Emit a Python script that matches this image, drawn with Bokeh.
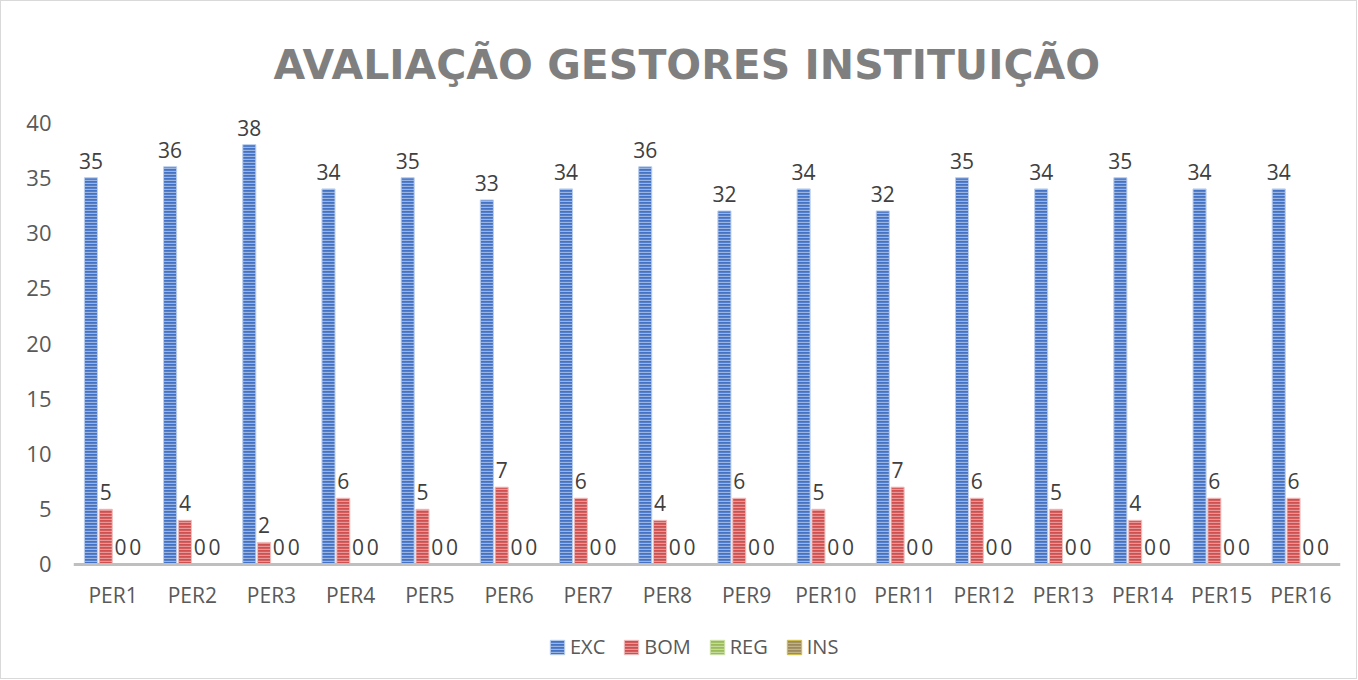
from bokeh.plotting import figure
from bokeh.models import ColumnDataSource, FactorRange, Range1d, FixedTicker, Legend, LegendItem
from bokeh.transform import dodge
from bokeh.core.properties import value
from bokeh.embed import file_html
from bokeh.resources import INLINE

categories = ["PER1", "PER2", "PER3", "PER4", "PER5", "PER6", "PER7", "PER8",
              "PER9", "PER10", "PER11", "PER12", "PER13", "PER14", "PER15", "PER16"]
exc = [35, 36, 38, 34, 35, 33, 34, 36, 32, 34, 32, 35, 34, 35, 34, 34]
bom = [5, 4, 2, 6, 5, 7, 6, 4, 6, 5, 7, 6, 5, 4, 6, 6]
reg = [0] * 16
ins = [0] * 16
series_names = ["EXC", "BOM", "REG", "INS"]
y_ticks = [0, 5, 10, 15, 20, 25, 30, 35, 40]
title_text = "AVALIAÇÃO GESTORES INSTITUIÇÃO"

src = ColumnDataSource(dict(cat=categories, EXC=exc, BOM=bom, REG=reg, INS=ins,
                            EXC_t=[str(v) for v in exc], BOM_t=[str(v) for v in bom],
                            REG_t=[str(v) for v in reg], INS_t=[str(v) for v in ins]))

p = figure(frame_width=1267, frame_height=578, output_backend="svg", toolbar_location=None,
           x_range=FactorRange(*categories, range_padding=0), y_range=Range1d(-10.32, 42),
           min_border_left=72, min_border_right=16, min_border_top=99, min_border_bottom=0)
p.styles = {"border": "1px solid #d9d9d9"}
p.outline_line_color = None
p.xgrid.grid_line_color = None
p.ygrid.grid_line_color = None

p.title.text = title_text
p.title.align = "left"
p.title.offset = 200
p.title.text_font = "DejaVu Sans"
p.title.text_font_size = "41px"
p.title.text_font_style = "bold"
p.title.text_color = "#7f7f7f"
p.title.standoff = 24

fills = ["#4472c4", "#d05050", "#9bbb59", "#9c8a5e"]
hatches = ["#a9c1e8", "#eba3a3", "#cde0a9", "#c9b98f"]
lines = ["#bcd0ee", "#f0c0c0", "#cde0a9", "#d4c040"]
offsets = [-0.28, -0.093, 0.093, 0.28]

items = []
for name, f, h, lc, off in zip(series_names, fills, hatches, lines, offsets):
    r = p.vbar(x=dodge("cat", off, range=p.x_range), top=name, width=0.165, source=src,
               fill_color=f, line_color=lc, line_width=1,
               hatch_pattern="horizontal_line", hatch_color=h, hatch_scale=3,
               hatch_weight=1.4, hatch_alpha=0.85)
    p.text(x=dodge("cat", off, range=p.x_range), y=name, text=name + "_t", source=src,
           text_align="center", text_baseline="alphabetic", y_offset=-17,
           text_font=value("Open Sans"), text_font_size="21px", text_color="#404040")
    items.append(LegendItem(label=name, renderers=[r]))

p.yaxis.ticker = FixedTicker(ticks=y_ticks)
p.yaxis.axis_line_color = None
p.yaxis.major_tick_line_color = None
p.yaxis.minor_tick_line_color = None
p.yaxis.major_label_text_font = "Open Sans"
p.yaxis.major_label_text_font_size = "22px"
p.yaxis.major_label_text_color = "#595959"
p.yaxis.major_label_standoff = 16

p.xaxis.fixed_location = 0
p.xaxis.axis_line_color = "#bfbfbf"
p.xaxis.axis_line_width = 3
p.xaxis.major_tick_line_color = None
p.xaxis.minor_tick_line_color = None
p.xaxis.major_label_text_font = "Open Sans"
p.xaxis.major_label_text_font_size = "21px"
p.xaxis.major_label_text_color = "#595959"
p.xaxis.major_label_standoff = 11

legend = Legend(items=items, orientation="horizontal", location=(475, 18),
                label_text_font="Open Sans", label_text_font_size="20px",
                label_text_color="#595959", glyph_width=18, glyph_height=18,
                spacing=17, label_standoff=4, border_line_color=None,
                background_fill_alpha=0, padding=4, margin=0)
p.add_layout(legend, "center")

open("out.html", "w").write(file_html(p, INLINE))
